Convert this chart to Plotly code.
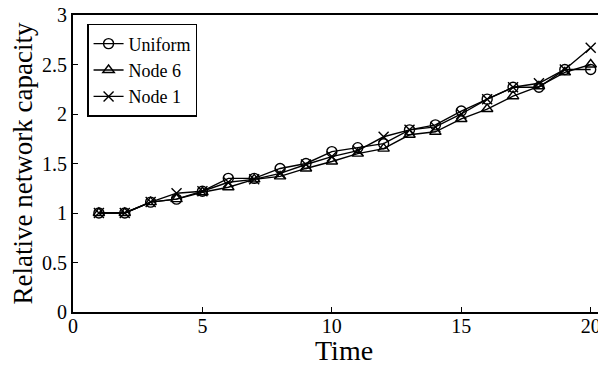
import plotly.graph_objects as go

time = list(range(1, 21))
uniform = [1.0, 1.0, 1.11, 1.14, 1.22, 1.35, 1.35, 1.45, 1.50, 1.62, 1.66, 1.70, 1.84, 1.89, 2.03, 2.15, 2.27, 2.27, 2.45, 2.45]
node6 = [1.0, 1.0, 1.11, 1.14, 1.21, 1.26, 1.34, 1.37, 1.45, 1.52, 1.60, 1.65, 1.79, 1.82, 1.95, 2.05, 2.18, 2.28, 2.42, 2.50]
node1 = [1.0, 1.0, 1.11, 1.20, 1.22, 1.31, 1.34, 1.40, 1.49, 1.57, 1.63, 1.77, 1.84, 1.87, 2.00, 2.15, 2.27, 2.31, 2.45, 2.67]
x_ticks = [0, 5, 10, 15, 20]
y_ticks = [0, 0.5, 1, 1.5, 2, 2.5, 3]
y_tick_labels = ["0", "0.5", "1", "1.5", "2", "2.5", "3"]
x_title = "Time"
y_title = "Relative network capacity"

font_family = "Liberation Serif"

fig = go.Figure()
series = [("Uniform", uniform, "circle-open"),
          ("Node 6", node6, "triangle-up-open"),
          ("Node 1", node1, "x-thin-open")]
for name, vals, sym in series:
    fig.add_trace(go.Scatter(
        x=time, y=vals, name=name, mode="lines+markers",
        line=dict(color="black", width=1.4),
        marker=dict(symbol=sym, size=10, color="black", line=dict(color="black", width=1.4)),
    ))

# The page body adds an 8px offset; margins compensate for it.
fig.update_layout(
    width=606, height=367,
    margin=dict(l=65, r=0, t=7, b=63, autoexpand=False),
    paper_bgcolor="white", plot_bgcolor="white",
    font=dict(family=font_family, color="black", size=20),
    showlegend=True,
    legend=dict(
        x=0.026, y=0.97, xanchor="left", yanchor="top",
        bgcolor="white", bordercolor="black", borderwidth=1.5,
        font=dict(family=font_family, size=18, color="black"),
        itemwidth=30, tracegroupgap=0,
    ),
    xaxis=dict(
        range=[0, 20.9], tickvals=x_ticks, ticks="inside", ticklen=5,
        tickcolor="black", tickwidth=1.2, automargin=False,
        showline=True, linecolor="black", linewidth=2, mirror=True,
        showgrid=False, zeroline=False, ticklabelstandoff=-5,
        ticklabeloverflow="allow",
        tickfont=dict(family=font_family, size=20),
    ),
    yaxis=dict(
        range=[0, 3], tickvals=y_ticks, ticktext=y_tick_labels, ticks="inside", ticklen=5,
        tickcolor="black", tickwidth=1.2, automargin=False,
        showline=True, linecolor="black", linewidth=2, mirror=False,
        showgrid=False, zeroline=False, ticklabeloverflow="allow",
        tickfont=dict(family=font_family, size=20),
    ),
    annotations=[
        dict(text=x_title, xref="paper", yref="paper", x=0.5, y=0,
             xanchor="center", yanchor="middle", yshift=-38, showarrow=False,
             font=dict(family=font_family, size=28, color="black")),
        dict(text=y_title, xref="paper", yref="paper", x=0, y=0.5,
             xanchor="center", yanchor="middle", xshift=-51, textangle=-90, showarrow=False,
             font=dict(family=font_family, size=27, color="black")),
    ],
)

fig.write_html("out.html")
